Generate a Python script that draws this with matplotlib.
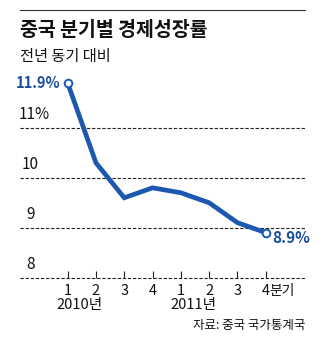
import matplotlib
matplotlib.use("Agg")
import matplotlib.pyplot as plt
from matplotlib.lines import Line2D

# ---- data ----
quarters = ["1", "2", "3", "4", "1", "2", "3", "4"]
years = ["2010년", "2011년"]
growth = [11.9, 10.3, 9.6, 9.8, 9.7, 9.5, 9.1, 8.9]
y_ticks = [8, 9, 10, 11]
y_tick_labels = ["8", "9", "10", "11%"]
title = "중국 분기별 경제성장률"
subtitle = "전년 동기 대비"
source = "자료: 중국 국가통계국"

# ---- layout constants (pixels) ----
W, H = 334, 338
BLUE = "#1d58b0"
BLUE_TXT = "#1b4f9e"
NUM = ["Liberation Sans Narrow", "Noto Sans CJK KR", "DejaVu Sans"]
KR = ["Noto Sans CJK KR", "DejaVu Sans"]

fig = plt.figure(figsize=(W / 100, H / 100), dpi=100)
fig.patch.set_facecolor("white")

left_px, right_px = 20, 305
top_px, bottom_px = 70, 277.5
x0_px, step_px = 67.7, 28.29
unit_px = 49.83

ax = fig.add_axes([left_px / W, 1 - bottom_px / H,
                   (right_px - left_px) / W, (bottom_px - top_px) / H])
ax.set_xlim((left_px - x0_px) / step_px, (right_px - x0_px) / step_px)
ax.set_ylim(8, 8 + (bottom_px - top_px) / unit_px)
for s in ax.spines.values():
    s.set_visible(False)
ax.set_yticks([])

x = list(range(len(growth)))

# gridlines
for v in y_ticks:
    ax.axhline(v, color="#222222", lw=0.8, ls=(0, (3, 1.6)), clip_on=False, zorder=1)

# y labels
ylab_x = [-1.30, -1.30, -1.33, -1.18]
for v, lab, xx in zip(y_ticks, y_tick_labels, ylab_x):
    ax.text(xx, v + 0.27, lab, ha="center", va="center", fontsize=11,
            family=NUM, color="#111111")

# x ticks
ax.set_xticks(x)
ax.set_xticklabels(quarters, family=NUM, fontsize=10.5, color="#111111")
ax.tick_params(axis="x", direction="in", length=5, width=0.8, color="#222222", pad=4.5)
last = ax.get_xticklabels()[-1]
ax.annotate("분기", xy=(1, 0.5), xycoords=last, ha="left", va="center",
            fontsize=10, family=KR, color="#111111")

# year labels
for xx, yr in zip([0.42, 4.45], years):
    ax.text(xx, 8 - (305 - bottom_px) / unit_px, yr, ha="center", va="center",
            fontsize=10.5, family=NUM, color="#111111", clip_on=False)

# line
ax.plot(x, growth, color=BLUE, lw=3.4, solid_joinstyle="miter", zorder=3)
ax.plot([x[0], x[-1]], [growth[0], growth[-1]], ls="none", marker="o", ms=5.5,
        mfc="white", mec=BLUE, mew=1.4, zorder=4)

ax.annotate(f"{growth[0]}%", xy=(x[0], growth[0]), xytext=(-5.5, 0),
            textcoords="offset points", ha="right", va="center",
            fontsize=10.5, fontweight="bold", family=NUM, color=BLUE_TXT)
ax.annotate(f"{growth[-1]}%", xy=(x[-1], growth[-1]), xytext=(4.5, -4),
            textcoords="offset points", ha="left", va="center",
            fontsize=11, fontweight="bold", family=NUM, color=BLUE_TXT)

# header
fig.add_artist(Line2D([left_px / W, right_px / W], [1 - 10 / H, 1 - 10 / H],
                      color="#333333", lw=0.8))
fig.text(left_px / W, 1 - 30 / H, title, ha="left", va="center", fontsize=14,
         fontweight="bold", family=KR, color="#111111")
fig.text(left_px / W, 1 - 56.5 / H, subtitle, ha="left", va="center", fontsize=11,
         family=KR, color="#111111")
fig.text(right_px / W, 1 - 326 / H, source, ha="right", va="center", fontsize=9,
         family=KR, color="#111111")

fig.savefig("out.png", dpi=100)
